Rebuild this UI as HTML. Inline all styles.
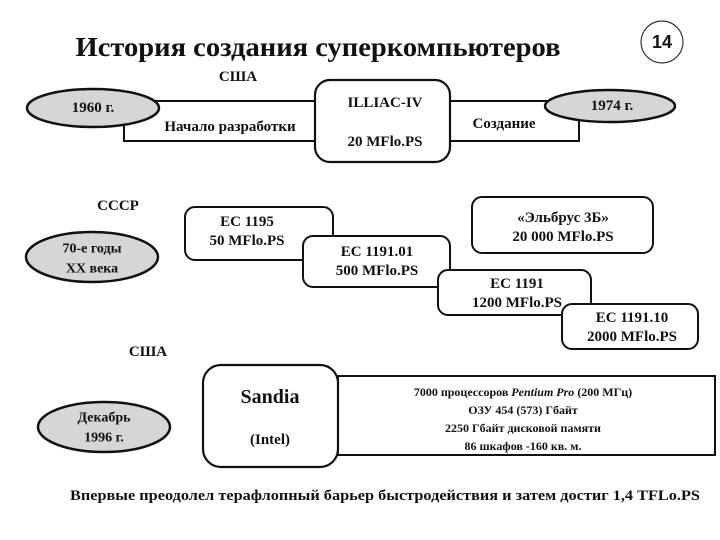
<!DOCTYPE html>
<html><head><meta charset="utf-8"><style>
body{margin:0;background:#fff;width:720px;height:540px;overflow:hidden}
svg{display:block}
text{font-family:"Liberation Serif","DejaVu Serif",serif;font-weight:bold;fill:#111;text-anchor:middle;dominant-baseline:central}
</style></head><body>
<svg width="720" height="540" viewBox="0 0 720 540">
<text x="318" y="47" style="font-size:27px" textLength="485" lengthAdjust="spacingAndGlyphs">История создания суперкомпьютеров</text>
<circle cx="662" cy="42" r="21" fill="#fff" stroke="#333" stroke-width="1.2"/>
<text x="662" y="42" style="font-family:'Liberation Sans',sans-serif;font-size:18px">14</text>

<text x="238" y="77" style="font-size:15px">США</text>
<rect x="124" y="101" width="191" height="40" fill="#fff" stroke="#111" stroke-width="2"/>
<rect x="450" y="101" width="129" height="40" fill="#fff" stroke="#111" stroke-width="2"/>
<rect x="315" y="80" width="135" height="82" rx="15" fill="#fff" stroke="#111" stroke-width="2.2"/>
<ellipse cx="93" cy="108" rx="66" ry="19" fill="#d6d6d6" stroke="#111" stroke-width="2.5"/>
<ellipse cx="610" cy="106" rx="65" ry="16" fill="#d6d6d6" stroke="#111" stroke-width="2.5"/>
<text x="93" y="108" style="font-size:15px">1960 г.</text>
<text x="612" y="106" style="font-size:15px">1974 г.</text>
<text x="230" y="127" style="font-size:15px">Начало разработки</text>
<text x="504" y="124" style="font-size:15px">Создание</text>
<text x="385" y="103" style="font-size:15px">ILLIAC-IV</text>
<text x="385" y="142" style="font-size:15px">20 MFlo.PS</text>

<text x="118" y="206" style="font-size:15px">СССР</text>
<ellipse cx="92" cy="257" rx="66" ry="25" fill="#d6d6d6" stroke="#111" stroke-width="2.5"/>
<text x="92" y="249" style="font-size:14px">70-е годы</text>
<text x="92" y="269" style="font-size:14px">XX века</text>
<rect x="185" y="207" width="148" height="53" rx="10" fill="#fff" stroke="#111" stroke-width="2"/>
<text x="247" y="222" style="font-size:15px">ЕС 1195</text>
<text x="247" y="241" style="font-size:15px">50 MFlo.PS</text>
<rect x="303" y="236" width="147" height="51" rx="10" fill="#fff" stroke="#111" stroke-width="2"/>
<text x="377" y="252" style="font-size:15px">ЕС 1191.01</text>
<text x="377" y="271" style="font-size:15px">500 MFlo.PS</text>
<rect x="472" y="197" width="181" height="56" rx="10" fill="#fff" stroke="#111" stroke-width="2"/>
<text x="563" y="218" style="font-size:15px">«Эльбрус 3Б»</text>
<text x="563" y="237" style="font-size:15px">20 000 MFlo.PS</text>
<rect x="438" y="270" width="153" height="45" rx="10" fill="#fff" stroke="#111" stroke-width="2"/>
<text x="517" y="284" style="font-size:15px">ЕС 1191</text>
<text x="517" y="303" style="font-size:15px">1200 MFlo.PS</text>
<rect x="562" y="304" width="136" height="45" rx="10" fill="#fff" stroke="#111" stroke-width="2"/>
<text x="632" y="318" style="font-size:15px">ЕС 1191.10</text>
<text x="632" y="337" style="font-size:15px">2000 MFlo.PS</text>

<text x="148" y="352" style="font-size:15px">США</text>
<rect x="338" y="376" width="377" height="79" fill="#fff" stroke="#111" stroke-width="2"/>
<rect x="203" y="365" width="135" height="102" rx="18" fill="#fff" stroke="#111" stroke-width="2.2"/>
<text x="270" y="397" style="font-size:20px">Sandia</text>
<text x="270" y="440" style="font-size:15px">(Intel)</text>
<ellipse cx="104" cy="427" rx="66" ry="25" fill="#d6d6d6" stroke="#111" stroke-width="2.5"/>
<text x="104" y="418" style="font-size:14px">Декабрь</text>
<text x="104" y="438" style="font-size:14px">1996 г.</text>
<text x="523" y="392" style="font-size:12px">7000 процессоров <tspan font-style="italic">Pentium Pro</tspan> (200 МГц)</text>
<text x="523" y="410" style="font-size:12px">ОЗУ 454 (573) Гбайт</text>
<text x="523" y="428" style="font-size:12px">2250 Гбайт дисковой памяти</text>
<text x="523" y="446" style="font-size:12px">86 шкафов -160 кв. м.</text>
<text x="385" y="496" style="font-size:15px" textLength="630" lengthAdjust="spacingAndGlyphs">Впервые преодолел терафлопный барьер быстродействия и затем достиг 1,4 TFLo.PS</text>
</svg>
</body></html>
